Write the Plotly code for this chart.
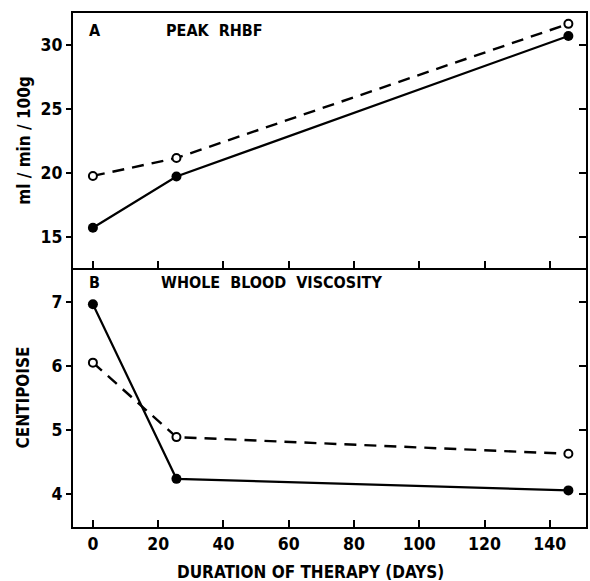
import plotly.graph_objects as go

days = [0, 25.6, 145.7]
rhbf_solid = [15.7, 19.7, 30.7]
rhbf_dashed = [19.75, 21.15, 31.65]
visc_solid = [6.96, 4.24, 4.06]
visc_dashed = [6.05, 4.89, 4.63]

x_ticks = [0, 20, 40, 60, 80, 100, 120, 140]
x_ticktext = ["0", "20", "40", "60", "80", "100", "120", "140"]
rhbf_ticks = [15, 20, 25, 30]
visc_ticks = [4, 5, 6, 7]

FONT = "DejaVu Sans Condensed"
BLACK = "black"

fig = go.Figure()

def add_pair(xa, ya, solid, dashed):
    fig.add_trace(go.Scatter(x=days, y=dashed, xaxis=xa, yaxis=ya, mode="lines+markers",
                             line=dict(color=BLACK, width=2.4, dash="12px,8px"),
                             marker=dict(symbol="circle", size=8, color="white",
                                         line=dict(color=BLACK, width=2)),
                             showlegend=False))
    fig.add_trace(go.Scatter(x=days, y=solid, xaxis=xa, yaxis=ya, mode="lines+markers",
                             line=dict(color=BLACK, width=2.2),
                             marker=dict(symbol="circle", size=10, color=BLACK),
                             showlegend=False))

add_pair("x", "y", rhbf_solid, rhbf_dashed)
add_pair("x2", "y2", visc_solid, visc_dashed)
# invisible traces to anchor right-side tick axes
fig.add_trace(go.Scatter(x=[None], y=[None], xaxis="x", yaxis="y3", showlegend=False))
fig.add_trace(go.Scatter(x=[None], y=[None], xaxis="x2", yaxis="y4", showlegend=False))

xr = [-6.1, 151.1]
top_dom = [0.504, 1.0]
bot_dom = [0.0, 0.504]
tickfont = dict(family=FONT, size=17.5, color=BLACK, weight="bold")
titlefont = dict(family=FONT, size=17, color=BLACK, weight="bold")

axis_common = dict(showline=True, linecolor=BLACK, linewidth=2, showgrid=False,
                   zeroline=False)

fig.update_layout(
    width=590, height=581,
    margin=dict(l=73, r=2, t=13, b=54),
    paper_bgcolor="white", plot_bgcolor="white",
    font=dict(family=FONT, color=BLACK),
    xaxis=dict(domain=[0, 1], range=xr, anchor="y", tickvals=x_ticks, ticks="inside",
               ticklen=7, tickwidth=2, tickcolor=BLACK, showticklabels=False,
               mirror=True, **axis_common),
    yaxis=dict(domain=top_dom, range=[12.55, 32.5], anchor="x", tickvals=rhbf_ticks,
               ticks="outside", ticklen=5, tickwidth=2, tickcolor=BLACK, tickfont=tickfont,
               title=dict(text="ml / min / 100g", font=titlefont, standoff=6),
               mirror=True, **axis_common),
    yaxis3=dict(overlaying="y", anchor="x", side="right", range=[12.55, 32.5],
                tickvals=rhbf_ticks, ticks="inside", ticklen=7, tickwidth=2, tickcolor=BLACK,
                showticklabels=False, showgrid=False, zeroline=False, showline=False),
    xaxis2=dict(domain=[0, 1], range=xr, anchor="y2", tickvals=x_ticks, ticktext=x_ticktext,
                ticks="inside", ticklen=7, tickwidth=2, tickcolor=BLACK, tickfont=tickfont,
                mirror=False, **axis_common),
    yaxis2=dict(domain=bot_dom, range=[3.49, 7.525], anchor="x2", tickvals=visc_ticks,
                ticks="outside", ticklen=5, tickwidth=2, tickcolor=BLACK, tickfont=tickfont,
                title=dict(text="CENTIPOISE", font=titlefont, standoff=18),
                mirror=True, **axis_common),
    yaxis4=dict(overlaying="y2", anchor="x2", side="right", range=[3.49, 7.525],
                tickvals=visc_ticks, ticks="inside", ticklen=7, tickwidth=2, tickcolor=BLACK,
                showticklabels=False, showgrid=False, zeroline=False, showline=False),
)

# x-axis title, placed as in the reference (slightly left of plot centre)
fig.add_annotation(text="DURATION OF THERAPY (DAYS)", x=0.462, y=-0.0875,
                   xref="paper", yref="paper", xanchor="center", yanchor="middle",
                   showarrow=False, font=titlefont)

ann_font = dict(family=FONT, size=16, color=BLACK, weight="bold")
fig.add_annotation(text="A", x=0.028, y=0.988, xref="paper", yref="paper",
                   xanchor="left", yanchor="top", showarrow=False, font=ann_font)
fig.add_annotation(text="PEAK  RHBF", x=0.178, y=0.988, xref="paper", yref="paper",
                   xanchor="left", yanchor="top", showarrow=False, font=ann_font)
fig.add_annotation(text="B", x=0.028, y=0.499, xref="paper", yref="paper",
                   xanchor="left", yanchor="top", showarrow=False, font=ann_font)
fig.add_annotation(text="WHOLE  BLOOD  VISCOSITY", x=0.168, y=0.499, xref="paper", yref="paper",
                   xanchor="left", yanchor="top", showarrow=False, font=ann_font)

fig.write_html("out.html")
